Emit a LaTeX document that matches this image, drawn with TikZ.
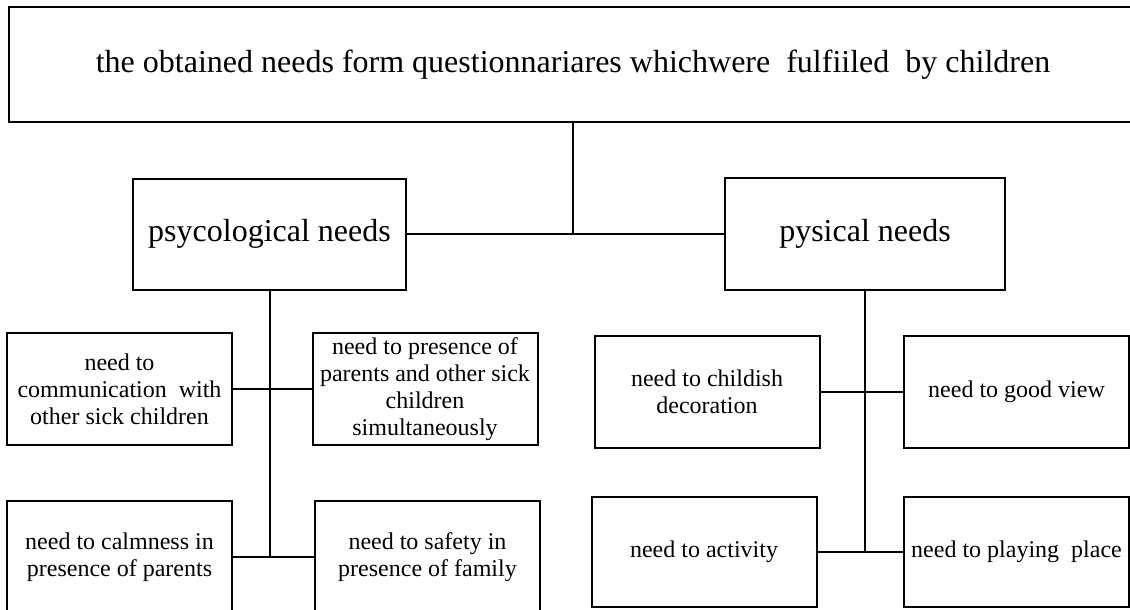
\documentclass[tikz,border=0pt]{standalone}
\usepackage{fontspec}
\setmainfont{Liberation Serif}
\usetikzlibrary{positioning}
\tikzset{
  needbox/.style={draw, line width=2pt, align=center, inner sep=2pt, fill=white,
    font=\fontsize{24}{27}\selectfont, minimum height=112pt},
  mainbox/.style={needbox, font=\fontsize{32}{36}\selectfont},
  needline/.style={line width=2pt},
}

\begin{document}
\begin{tikzpicture}[x=1pt, y=-1pt, subbox/.style={needbox, minimum width=225pt}]
  \useasboundingbox (0,0) rectangle (1130,610);
  \clip (0,0) rectangle (1130,610);
  % top level
  \node[mainbox, minimum width=1128pt, minimum height=115pt] (survey) at (573,64.5) {the obtained needs form questionnariares whichwere\ \ fulfiiled\ \ by children};
  \node[mainbox, minimum width=273pt, minimum height=111pt] (psych) at (269.5,234) {psycological needs};
  \node[mainbox, minimum width=280pt, minimum height=112pt] (phys) at (865,234) {pysical needs};
  % psychological needs
  \node[subbox] (comm) at (119.5,389) {need to\\communication\ \ with\\other sick children};
  \node[subbox] (presence) at (425,389) {need to presence of\\parents and other sick\\children\\simultaneously};
  \node[subbox] (calm) at (119.5,557) {need to calmness in\\presence of parents};
  \node[subbox] (safety) at (427.5,557) {need to safety in\\presence of family};
  % physical needs
  \node[subbox] (decor) at (707,392) {need to childish\\decoration};
  \node[subbox] (view) at (1016.5,392) {need to good view};
  \node[subbox, minimum height=110pt] (activity) at (704,552) {need to activity};
  \node[subbox, minimum height=110pt] (play) at (1016.5,552) {need to playing\ \ place};
  % tree lines
  \draw[needline] (survey.south) -- (survey.south |- psych.east);
  \draw[needline] (psych.east) -- (phys.west);
  \draw[needline] (psych.south) -- (psych.south |- calm.east);
  \draw[needline] (comm.east) -- (presence.west);
  \draw[needline] (calm.east) -- (safety.west);
  \draw[needline] (phys.south) -- (phys.south |- activity.east);
  \draw[needline] (decor.east) -- (view.west);
  \draw[needline] (activity.east) -- (play.west);
\end{tikzpicture}
\end{document}
